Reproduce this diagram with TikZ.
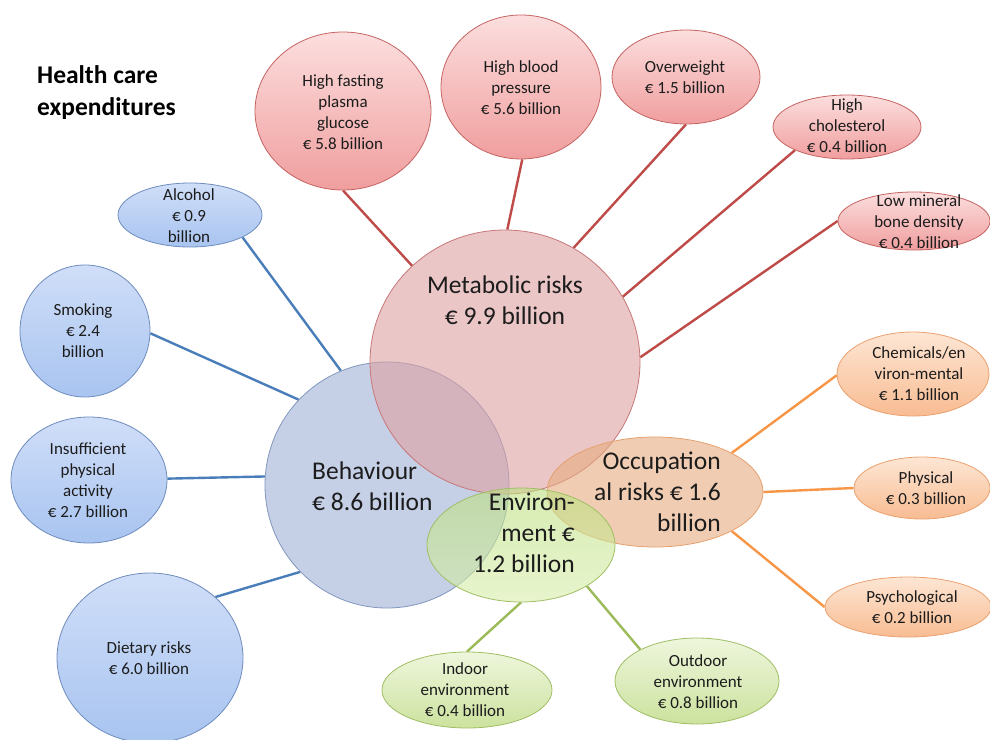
\documentclass[tikz,border=0pt]{standalone}
\usepackage{fontspec}
\setmainfont{Carlito}
\usetikzlibrary{shapes.geometric}
\pgfdeclarelayer{bg}
\pgfsetlayers{bg,main}
\definecolor{txt}{RGB}{28,28,28}
\definecolor{pinkT}{RGB}{252,222,222}
\definecolor{pinkBo}{RGB}{240,158,158}
\definecolor{pinkD}{RGB}{196,100,98}
\definecolor{pinkL}{RGB}{190,75,72}
\definecolor{blueT}{RGB}{208,222,248}
\definecolor{blueBo}{RGB}{168,196,240}
\definecolor{blueD}{RGB}{110,140,190}
\definecolor{blueL}{RGB}{74,126,187}
\definecolor{oraT}{RGB}{253,230,212}
\definecolor{oraBo}{RGB}{248,188,146}
\definecolor{oraD}{RGB}{236,160,110}
\definecolor{oraL}{RGB}{247,150,70}
\definecolor{grnT}{RGB}{238,246,220}
\definecolor{grnBo}{RGB}{204,226,158}
\definecolor{grnD}{RGB}{160,190,100}
\definecolor{grnL}{RGB}{155,187,89}
\definecolor{behF}{RGB}{197,208,230}
\definecolor{behD}{RGB}{130,150,190}
\definecolor{metF}{RGB}{222,160,162}
\definecolor{metD}{RGB}{200,120,120}
\definecolor{occF}{RGB}{230,172,127}
\definecolor{occD}{RGB}{230,160,110}
\definecolor{envT}{RGB}{188,223,127}
\definecolor{envB}{RGB}{217,238,172}
\definecolor{envD}{RGB}{160,190,100}
\tikzset{
  shp/.style={ellipse, inner sep=0pt, line width=0.8pt},
  pinkE/.style={shp, draw=pinkD, top color=pinkT, bottom color=pinkBo},
  blueE/.style={shp, draw=blueD, top color=blueT, bottom color=blueBo},
  oraE/.style={shp, draw=oraD, top color=oraT, bottom color=oraBo},
  grnE/.style={shp, draw=grnD, top color=grnT, bottom color=grnBo},
  lbl/.style={font=\fontsize{17}{21}\selectfont, align=center, text=txt, inner sep=0pt},
  biglbl/.style={font=\fontsize{25.5}{31}\selectfont, text=txt, inner sep=0pt},
  conn/.style={line width=2.4pt},
  pinkC/.style={conn, draw=pinkL},
  blueC/.style={conn, draw=blueL},
  oraC/.style={conn, draw=oraL},
  grnC/.style={conn, draw=grnL}
}
\begin{document}
\begin{tikzpicture}[x=1pt,y=-1pt]
\useasboundingbox (0,0) rectangle (990,739);
% title
\node[font=\bfseries\fontsize{25.5}{32}\selectfont, align=left, anchor=west, text=black, inner sep=0pt] (title) at (37,93) {Health care\\expenditures};
% pink
\node[pinkE, minimum width=176pt, minimum height=158pt] (glu) at (343,111) {};
\node[pinkE, minimum width=160pt, minimum height=144pt] (bp) at (521,87) {};
\node[pinkE, minimum width=148pt, minimum height=94pt] (ow) at (686,77) {};
\node[pinkE, minimum width=148pt, minimum height=64pt] (chol) at (847,127) {};
\node[pinkE, minimum width=152pt, minimum height=58pt] (lmb) at (914,221) {};
% blue
\node[blueE, minimum width=144pt, minimum height=64pt] (alc) at (190,215) {};
\node[blueE, minimum width=130pt, minimum height=132pt] (smk) at (85,331) {};
\node[blueE, minimum width=156pt, minimum height=126pt] (ins) at (89,480) {};
\node[blueE, minimum width=186pt, minimum height=170pt] (diet) at (150,658) {};
% orange
\node[oraE, minimum width=152pt, minimum height=84pt] (chem) at (913,374) {};
\node[oraE, minimum width=136pt, minimum height=62pt] (phys) at (922,488) {};
\node[oraE, minimum width=166pt, minimum height=60pt] (psy) at (908,607) {};
% green
\node[grnE, minimum width=170pt, minimum height=76pt] (ind) at (467,690) {};
\node[grnE, minimum width=164pt, minimum height=86pt] (out) at (697,681) {};
% central
\node[shp, fill=behF, draw=behD, minimum width=244pt, minimum height=246pt] (beh) at (387,485) {};
\node[shp, fill=metF, fill opacity=0.6, draw=metD, minimum width=270pt, minimum height=264pt] (met) at (505,362) {};
\node[shp, fill=occF, fill opacity=0.6, draw=occD, minimum width=216pt, minimum height=110pt] (occ) at (655,492) {};
\node[shp, top color=envT, bottom color=envB, fill opacity=0.6, draw=envD, minimum width=188pt, minimum height=114pt] (env) at (521,545) {};
% connectors
\begin{pgfonlayer}{bg}
\fill[white] (0,0) rectangle (990,739);
\draw[blueC] (alc.337) -- (beh.112);
\draw[blueC] (smk.358) -- (beh.136);
\draw[blueC] (ins.1) -- (beh.176);
\draw[blueC] (diet.43) -- (beh.225);
\draw[pinkC] (glu.270) -- (met.134);
\draw[pinkC] (bp.271) -- (met.89);
\draw[pinkC] (ow.270) -- (met.59);
\draw[pinkC] (chol.204) -- (met.29);
\draw[pinkC] (lmb.180) -- (met.2);
\draw[oraC] (occ.27) -- (chem.181);
\draw[oraC] (occ.0) -- (phys.180);
\draw[oraC] (occ.333) -- (psy.180);
\draw[grnC] (env.270) -- (ind.90);
\draw[grnC] (env.328) -- (out.151);
\end{pgfonlayer}
% labels
\node[lbl] (gluT) at (343,112) {High fasting\\plasma\\glucose\\€ 5.8 billion};
\node[lbl] (bpT) at (521,88) {High blood\\pressure\\€ 5.6 billion};
\node[lbl] (owT) at (685,77) {Overweight\\€ 1.5 billion};
\node[lbl] (cholT) at (847,126) {High\\cholesterol\\€ 0.4 billion};
\node[lbl] (lmbT) at (919,222) {Low mineral\\bone density\\€ 0.4 billion};
\node[lbl] (alcT) at (189,216) {Alcohol\\€ 0.9\\billion};
\node[lbl] (smkT) at (83,331) {Smoking\\€ 2.4\\billion};
\node[lbl] (insT) at (88,480) {Insufficient\\physical\\activity\\€ 2.7 billion};
\node[lbl] (dietT) at (149,658) {Dietary risks\\€ 6.0 billion};
\node[lbl] (chemT) at (919,374) {Chemicals/en\\viron-mental\\€ 1.1 billion};
\node[lbl] (physT) at (926,488) {Physical\\€ 0.3 billion};
\node[lbl] (psyT) at (912,607) {Psychological\\€ 0.2 billion};
\node[lbl] (indT) at (465,690) {Indoor\\environment\\€ 0.4 billion};
\node[lbl] (outT) at (698,682) {Outdoor\\environment\\€ 0.8 billion};
\node[biglbl, align=center] (metT) at (505,300) {Metabolic risks\\€ 9.9 billion};
\node[biglbl, align=left, anchor=west] (behT) at (312,486) {Behaviour\\€ 8.6 billion};
\node[biglbl, align=right, anchor=east] (occT) at (721,492) {Occupation\\al risks € 1.6\\billion};
\node[biglbl, align=right, anchor=east] (envT) at (575,533) {Environ-\\ment €\\1.2 billion};
\end{tikzpicture}
\end{document}
